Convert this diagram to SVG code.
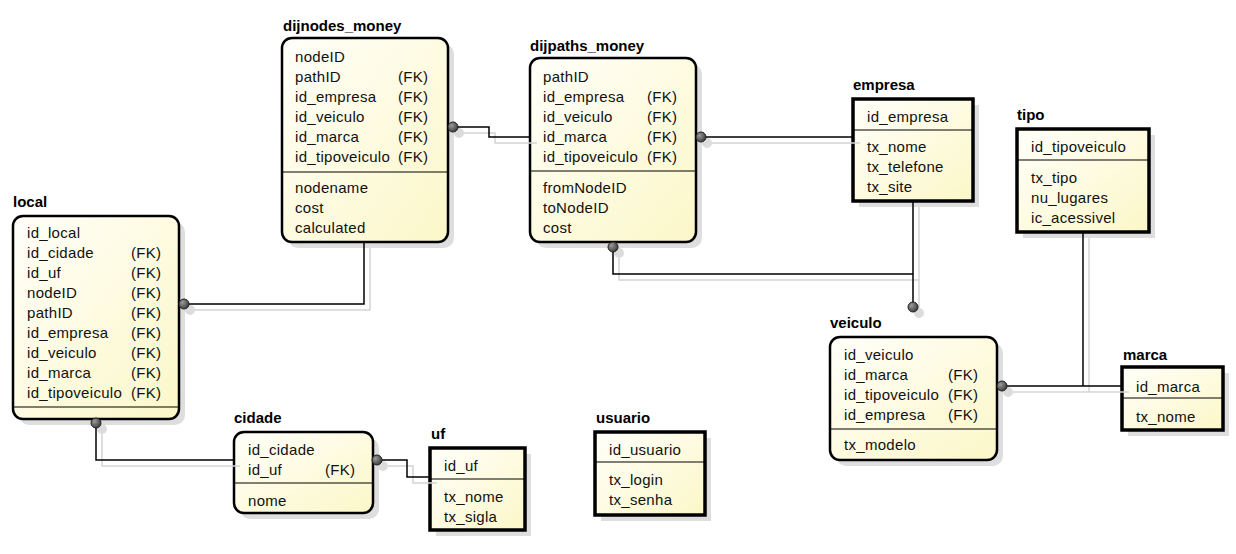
<svg xmlns="http://www.w3.org/2000/svg" width="1236" height="554" viewBox="0 0 1236 554">
<defs>
<linearGradient id="fill" x1="0" y1="0" x2="1" y2="1">
<stop offset="0" stop-color="#fffffa"/>
<stop offset="1" stop-color="#fcf7c8"/>
</linearGradient>
<radialGradient id="dot" cx="0.35" cy="0.35" r="0.7">
<stop offset="0" stop-color="#9a9a9a"/>
<stop offset="1" stop-color="#3a3a3a"/>
</radialGradient>
<style>
.t{font-family:"Liberation Sans",Arial,sans-serif;font-size:15px;font-weight:bold;fill:#000}
.r{font-family:"Liberation Sans",Arial,sans-serif;font-size:15px;letter-spacing:0.3px;fill:#111}
.box{fill:url(#fill);stroke:#000}
.rb{stroke-width:2.5}
.sb{stroke-width:3.5}
.sh{fill:#dedede}
.sep{stroke:#000;stroke-width:1}
.cl{fill:none;stroke:#000;stroke-width:1.5}
.cs{fill:none;stroke:#d4d4d4;stroke-width:1.5}
.dot{fill:url(#dot);stroke:#222;stroke-width:1}
.ds{fill:#dcdcdc}
</style>
</defs>
<rect width="1236" height="554" fill="#fff"/>

<g id="dijnodes_money">
<text class="t" x="283" y="31">dijnodes_money</text>
<rect class="sh" x="288" y="44" width="166" height="204" rx="10"/>
<rect class="box rb" x="282" y="38" width="166" height="204" rx="10"/>
<line class="sep" x1="283" y1="172" x2="447" y2="172"/>
<text class="r" x="295" y="62">nodeID</text>
<text class="r" x="295" y="82">pathID</text><text class="r" x="398" y="82">(FK)</text>
<text class="r" x="295" y="102">id_empresa</text><text class="r" x="398" y="102">(FK)</text>
<text class="r" x="295" y="122">id_veiculo</text><text class="r" x="398" y="122">(FK)</text>
<text class="r" x="295" y="142">id_marca</text><text class="r" x="398" y="142">(FK)</text>
<text class="r" x="295" y="162">id_tipoveiculo</text><text class="r" x="398" y="162">(FK)</text>
<text class="r" x="295" y="193">nodename</text>
<text class="r" x="295" y="213">cost</text>
<text class="r" x="295" y="233">calculated</text>
</g>

<g id="dijpaths_money">
<text class="t" x="530" y="51">dijpaths_money</text>
<rect class="sh" x="536" y="64" width="166" height="184" rx="10"/>
<rect class="box rb" x="530" y="58" width="166" height="184" rx="10"/>
<line class="sep" x1="531" y1="171" x2="695" y2="171"/>
<text class="r" x="543" y="82">pathID</text>
<text class="r" x="543" y="102">id_empresa</text><text class="r" x="647" y="102">(FK)</text>
<text class="r" x="543" y="122">id_veiculo</text><text class="r" x="647" y="122">(FK)</text>
<text class="r" x="543" y="142">id_marca</text><text class="r" x="647" y="142">(FK)</text>
<text class="r" x="543" y="162">id_tipoveiculo</text><text class="r" x="647" y="162">(FK)</text>
<text class="r" x="543" y="193">fromNodeID</text>
<text class="r" x="543" y="213">toNodeID</text>
<text class="r" x="543" y="233">cost</text>
</g>

<g id="empresa">
<text class="t" x="853" y="90">empresa</text>
<rect class="sh" x="859" y="105" width="120" height="102"/>
<rect class="box sb" x="853" y="99" width="120" height="102"/>
<line class="sep" x1="854" y1="130" x2="972" y2="130"/>
<text class="r" x="867" y="122">id_empresa</text>
<text class="r" x="867" y="152">tx_nome</text>
<text class="r" x="867" y="172">tx_telefone</text>
<text class="r" x="867" y="192">tx_site</text>
</g>

<g id="tipo">
<text class="t" x="1017" y="120">tipo</text>
<rect class="sh" x="1023" y="135" width="132" height="103"/>
<rect class="box sb" x="1017" y="129" width="132" height="103"/>
<line class="sep" x1="1018" y1="160" x2="1148" y2="160"/>
<text class="r" x="1031" y="152">id_tipoveiculo</text>
<text class="r" x="1031" y="183">tx_tipo</text>
<text class="r" x="1031" y="203">nu_lugares</text>
<text class="r" x="1031" y="223">ic_acessivel</text>
</g>

<g id="local">
<text class="t" x="13" y="207">local</text>
<rect class="sh" x="19" y="222" width="166" height="203" rx="10"/>
<rect class="box rb" x="13" y="216" width="166" height="203" rx="10"/>
<line class="sep" x1="14" y1="407" x2="178" y2="407"/>
<text class="r" x="27" y="238">id_local</text>
<text class="r" x="27" y="258">id_cidade</text><text class="r" x="131" y="258">(FK)</text>
<text class="r" x="27" y="278">id_uf</text><text class="r" x="131" y="278">(FK)</text>
<text class="r" x="27" y="298">nodeID</text><text class="r" x="131" y="298">(FK)</text>
<text class="r" x="27" y="318">pathID</text><text class="r" x="131" y="318">(FK)</text>
<text class="r" x="27" y="338">id_empresa</text><text class="r" x="131" y="338">(FK)</text>
<text class="r" x="27" y="358">id_veiculo</text><text class="r" x="131" y="358">(FK)</text>
<text class="r" x="27" y="378">id_marca</text><text class="r" x="131" y="378">(FK)</text>
<text class="r" x="27" y="398">id_tipoveiculo</text><text class="r" x="131" y="398">(FK)</text>
</g>

<g id="cidade">
<text class="t" x="234" y="423">cidade</text>
<rect class="sh" x="240" y="438" width="139" height="81" rx="10"/>
<rect class="box rb" x="234" y="432" width="139" height="81" rx="10"/>
<line class="sep" x1="235" y1="483" x2="372" y2="483"/>
<text class="r" x="248" y="455">id_cidade</text>
<text class="r" x="248" y="475">id_uf</text><text class="r" x="325" y="475">(FK)</text>
<text class="r" x="248" y="506">nome</text>
</g>

<g id="uf">
<text class="t" x="431" y="439">uf</text>
<rect class="sh" x="436" y="454" width="95" height="82"/>
<rect class="box sb" x="430" y="448" width="95" height="82"/>
<line class="sep" x1="431" y1="479" x2="524" y2="479"/>
<text class="r" x="444" y="471">id_uf</text>
<text class="r" x="444" y="502">tx_nome</text>
<text class="r" x="444" y="522">tx_sigla</text>
</g>

<g id="usuario">
<text class="t" x="596" y="423">usuario</text>
<rect class="sh" x="601" y="438" width="110" height="83"/>
<rect class="box sb" x="595" y="432" width="110" height="83"/>
<line class="sep" x1="596" y1="462" x2="704" y2="462"/>
<text class="r" x="609" y="455">id_usuario</text>
<text class="r" x="609" y="485">tx_login</text>
<text class="r" x="609" y="505">tx_senha</text>
</g>

<g id="veiculo">
<text class="t" x="830" y="328">veiculo</text>
<rect class="sh" x="836" y="343" width="167" height="123" rx="10"/>
<rect class="box rb" x="830" y="337" width="167" height="123" rx="10"/>
<line class="sep" x1="831" y1="429" x2="996" y2="429"/>
<text class="r" x="844" y="360">id_veiculo</text>
<text class="r" x="844" y="380">id_marca</text><text class="r" x="948" y="380">(FK)</text>
<text class="r" x="844" y="400">id_tipoveiculo</text><text class="r" x="948" y="400">(FK)</text>
<text class="r" x="844" y="420">id_empresa</text><text class="r" x="948" y="420">(FK)</text>
<text class="r" x="844" y="450">tx_modelo</text>
</g>

<g id="marca">
<text class="t" x="1123" y="360">marca</text>
<rect class="sh" x="1128" y="373" width="101" height="63"/>
<rect class="box sb" x="1122" y="367" width="101" height="63"/>
<line class="sep" x1="1123" y1="398" x2="1222" y2="398"/>
<text class="r" x="1136" y="392">id_marca</text>
<text class="r" x="1136" y="422">tx_nome</text>
</g>

<g id="connectors">
<polyline class="cs" points="459,133 495,133 495,143 537,143"/>
<polyline class="cs" points="707,143 860,143"/>
<polyline class="cs" points="619,253 619,280 919,280"/>
<polyline class="cs" points="919,207 919,313"/>
<polyline class="cs" points="1089,238 1089,392"/>
<polyline class="cs" points="1008,392 1129,392"/>
<polyline class="cs" points="370,248 370,310 190,310"/>
<polyline class="cs" points="102,429 102,466 240,466"/>
<polyline class="cs" points="383,466 413,466 413,483 437,483"/>
<circle class="ds" cx="459" cy="133" r="5"/>
<circle class="ds" cx="707" cy="143" r="5"/>
<circle class="ds" cx="619" cy="253" r="5"/>
<circle class="ds" cx="919" cy="313" r="5"/>
<circle class="ds" cx="1008" cy="392" r="5"/>
<circle class="ds" cx="190" cy="310" r="5"/>
<circle class="ds" cx="102" cy="429" r="5"/>
<circle class="ds" cx="383" cy="466" r="5"/>
<polyline class="cl" points="453,127 489,127 489,137 530,137"/>
<polyline class="cl" points="701,137 853,137"/>
<polyline class="cl" points="613,247 613,274 913,274"/>
<polyline class="cl" points="913,201 913,307"/>
<polyline class="cl" points="1083,232 1083,386"/>
<polyline class="cl" points="1002,386 1122,386"/>
<polyline class="cl" points="364,242 364,304 184,304"/>
<polyline class="cl" points="96,423 96,460 234,460"/>
<polyline class="cl" points="377,460 407,460 407,477 430,477"/>
<circle class="dot" cx="453" cy="127" r="5"/>
<circle class="dot" cx="701" cy="137" r="5"/>
<circle class="dot" cx="613" cy="247" r="5"/>
<circle class="dot" cx="913" cy="307" r="5"/>
<circle class="dot" cx="1002" cy="386" r="5"/>
<circle class="dot" cx="184" cy="304" r="5"/>
<circle class="dot" cx="96" cy="423" r="5"/>
<circle class="dot" cx="377" cy="460" r="5"/>
</g>
</svg>
